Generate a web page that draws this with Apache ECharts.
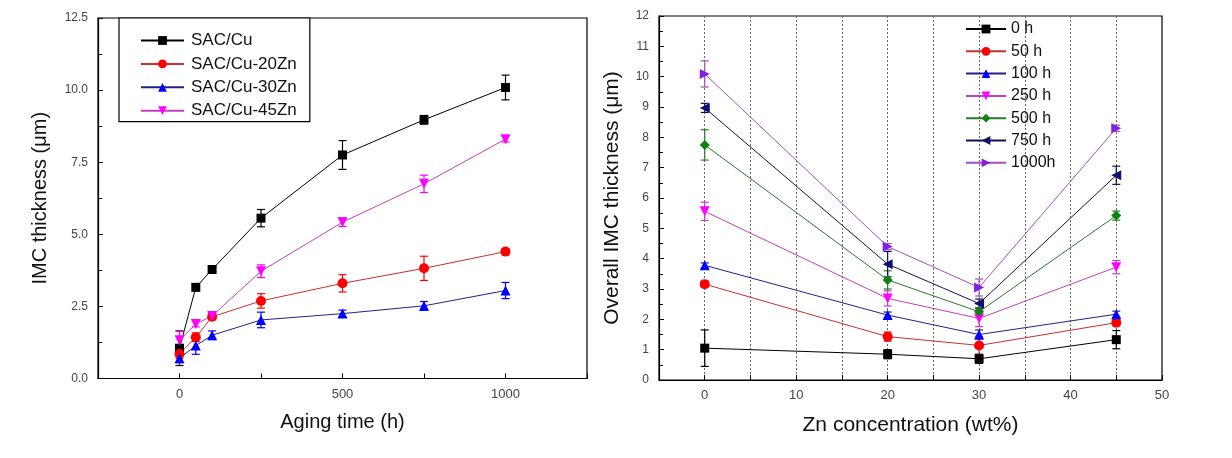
<!DOCTYPE html>
<html><head><meta charset="utf-8">
<script src="https://cdn.jsdelivr.net/npm/echarts@6/dist/echarts.min.js"></script>
<style>html,body{margin:0;padding:0;background:#fff}#c{width:1232px;height:458px}</style>
</head><body><div id="c"></div>
<script>
// ---- data ----
const agingTimes = [0, 50, 100, 250, 500, 750, 1000];
const znConc = [0, 20, 30, 45];
const alloyNames = ['SAC/Cu', 'SAC/Cu-20Zn', 'SAC/Cu-30Zn', 'SAC/Cu-45Zn'];
const timeNames = ['0 h', '50 h', '100 h', '250 h', '500 h', '750 h', '1000h'];

// IMC thickness (µm) per alloy, indexed by aging time
const sacCu      = [1.05, 3.16, 3.78, 5.56, 7.75, 8.97, 10.09];
const sacCu20Zn  = [0.85, 1.43, 2.14, 2.69, 3.30, 3.82, 4.40];
const sacCu30Zn  = [0.70, 1.14, 1.50, 2.03, 2.25, 2.52, 3.05];
const sacCu45Zn  = [1.33, 1.89, 2.17, 3.72, 5.42, 6.75, 8.30];
// error bars (± µm)
const sacCuErr     = [0.60, 0.10, 0.08, 0.30, 0.50, 0.15, 0.43];
const sacCu20ZnErr = [0.15, 0.15, 0.10, 0.25, 0.30, 0.42, 0.10];
const sacCu30ZnErr = [0.15, 0.30, 0.15, 0.27, 0.12, 0.15, 0.28];
const sacCu45ZnErr = [0.30, 0.10, 0.10, 0.22, 0.15, 0.30, 0.10];

// ---- styles ----
const alloyValues = [sacCu, sacCu20Zn, sacCu30Zn, sacCu45Zn];
const alloyErrs = [sacCuErr, sacCu20ZnErr, sacCu30ZnErr, sacCu45ZnErr];
const alloyMarker = ['#000000', '#ff0000', '#0000ff', '#ff00ff'];
const alloyLine = ['#000000', '#c83030', '#22228a', '#c040c0'];
const alloySymbol = ['rect', 'circle', 'triangle', 'triangle'];
const alloyRotate = [0, 0, 0, 180];

const timeMarker = ['#000000', '#ff0000', '#0000ff', '#ff00ff', '#108010', '#101070', '#8020e0'];
const timeLine = ['#000000', '#c83030', '#22228a', '#c040c0', '#2a7a2a', '#101050', '#a050c0'];
const timeSymbol = ['rect', 'circle', 'triangle', 'triangle', 'diamond', 'triangle', 'triangle'];
const timeRotate = [0, 0, 0, 180, 0, 90, -90];

const FONT = 'Liberation Sans, Arial, sans-serif';

function errRender(capW) {
  return function (params, api) {
    const x = api.value(0), y = api.value(1), e = api.value(2);
    const top = api.coord([x, y + e]);
    const bot = api.coord([x, y - e]);
    const style = { stroke: api.visual('color'), lineWidth: 1.2 };
    return {
      type: 'group',
      children: [
        { type: 'line', shape: { x1: top[0], y1: top[1], x2: bot[0], y2: bot[1] }, style: style },
        { type: 'line', shape: { x1: top[0] - capW / 2, y1: top[1], x2: top[0] + capW / 2, y2: top[1] }, style: style },
        { type: 'line', shape: { x1: bot[0] - capW / 2, y1: bot[1], x2: bot[0] + capW / 2, y2: bot[1] }, style: style }
      ]
    };
  };
}

const series = [];
// left chart
alloyNames.forEach((name, i) => {
  const pts = agingTimes.map((t, k) => [t, alloyValues[i][k]]);
  const errPts = agingTimes.map((t, k) => [t, alloyValues[i][k], alloyErrs[i][k]]);
  series.push({
    type: 'custom', name: name + ' err', xAxisIndex: 0, yAxisIndex: 0, z: 2,
    itemStyle: { color: alloyMarker[i] }, renderItem: errRender(8),
    encode: { x: 0, y: 1 }, data: errPts, silent: true
  });
  series.push({
    type: 'line', name: name, xAxisIndex: 0, yAxisIndex: 0, z: 3,
    data: pts, symbol: alloySymbol[i], symbolRotate: alloyRotate[i],
    symbolSize: alloySymbol[i] === 'rect' ? 9 : 10,
    itemStyle: { color: alloyMarker[i] },
    lineStyle: { color: alloyLine[i], width: 1 }, animation: false
  });
});
// right chart
timeNames.forEach((name, j) => {
  const pts = znConc.map((z, i) => [z, alloyValues[i][j]]);
  const errPts = znConc.map((z, i) => [z, alloyValues[i][j], alloyErrs[i][j]]);
  series.push({
    type: 'custom', name: name + ' err', xAxisIndex: 1, yAxisIndex: 1, z: 2,
    itemStyle: { color: timeLine[j] }, renderItem: errRender(8),
    encode: { x: 0, y: 1 }, data: errPts, silent: true
  });
  series.push({
    type: 'line', name: name, xAxisIndex: 1, yAxisIndex: 1, z: 3,
    data: pts, symbol: timeSymbol[j], symbolRotate: timeRotate[j],
    symbolSize: timeSymbol[j] === 'rect' ? 9 : 10,
    itemStyle: { color: timeMarker[j] },
    lineStyle: { color: timeLine[j], width: 1 }, animation: false
  });
});

const axisLineStyle = { show: true, onZero: false, lineStyle: { color: '#000', width: 1.2 } };
const tickStyle = { show: true, inside: true, length: 5, lineStyle: { color: '#000' } };
const labelStyle = { color: '#444', fontFamily: FONT, fontSize: 12 };

const option = {
  animation: false,
  backgroundColor: '#fff',
  textStyle: { fontFamily: FONT },
  grid: [
    { left: 98, right: 645, top: 18, bottom: 79.5, show: true, borderColor: '#000', borderWidth: 1.2 },
    { left: 659, right: 70, top: 16, bottom: 78, show: true, borderColor: '#000', borderWidth: 1.2 }
  ],
  xAxis: [
    {
      gridIndex: 0, type: 'value', min: -250, max: 1250, interval: 250,
      name: 'Aging time (h)', nameLocation: 'middle', nameGap: 34,
      nameTextStyle: { fontSize: 20, color: '#111', fontFamily: FONT },
      axisLine: axisLineStyle, axisTick: tickStyle,
      axisLabel: Object.assign({}, labelStyle, { fontSize: 13, margin: 9,
        formatter: v => (v % 500 === 0 && v >= 0 && v <= 1000) ? String(v) : '' }),
      splitLine: { show: false }
    },
    {
      gridIndex: 1, type: 'value', min: -5, max: 50, interval: 5,
      name: 'Zn concentration (wt%)', nameLocation: 'middle', nameGap: 35,
      nameTextStyle: { fontSize: 21, color: '#111', fontFamily: FONT },
      axisLine: axisLineStyle, axisTick: tickStyle,
      axisLabel: Object.assign({}, labelStyle, { fontSize: 13, margin: 9,
        formatter: v => (v % 10 === 0 && v >= 0) ? String(v) : '' }),
      splitLine: { show: true, lineStyle: { color: '#666', type: [2, 2], width: 1 } }
    }
  ],
  yAxis: [
    {
      gridIndex: 0, type: 'value', min: 0, max: 12.5, interval: 2.5,
      name: 'IMC thickness (\u03bcm)', nameLocation: 'middle', nameGap: 48,
      nameTextStyle: { fontSize: 20, color: '#111', fontFamily: FONT },
      axisLine: axisLineStyle, axisTick: tickStyle,
      minorTick: { show: true, splitNumber: 2, length: 4, lineStyle: { color: '#000' } },
      axisLabel: Object.assign({}, labelStyle, { margin: 10, formatter: v => v.toFixed(1) }),
      splitLine: { show: false }
    },
    {
      gridIndex: 1, type: 'value', min: 0, max: 12, interval: 1,
      name: 'Overall IMC thickness (\u03bcm)', nameLocation: 'middle', nameGap: 36,
      nameTextStyle: { fontSize: 21, color: '#111', fontFamily: FONT },
      axisLine: axisLineStyle, axisTick: tickStyle,
      minorTick: { show: true, splitNumber: 2, length: 4, lineStyle: { color: '#000' } },
      axisLabel: Object.assign({}, labelStyle, { margin: 10 }),
      splitLine: { show: false }
    }
  ],
  legend: [
    {
      data: alloyNames, orient: 'vertical', left: 119, top: 18,
      padding: [13.5, 13, 2, 21], itemGap: 5.4, itemWidth: 43, itemHeight: 11,
      borderColor: '#000', borderWidth: 1.2, backgroundColor: '#fff',
      textStyle: { fontSize: 17, lineHeight: 18, color: '#111', fontFamily: FONT, padding: [0, 0, 0, 2] },
      selectedMode: false
    },
    {
      data: timeNames, orient: 'vertical', left: 965, top: 21,
      padding: 0, itemGap: 6.3, itemWidth: 40, itemHeight: 11,
      textStyle: { fontSize: 16, lineHeight: 16, color: '#111', fontFamily: FONT, padding: [0, 0, 0, 0] },
      selectedMode: false
    }
  ],
  series: series
};

const chart = echarts.init(document.getElementById('c'), null, { renderer: 'canvas' });
chart.setOption(option);
</script>
</body></html>
